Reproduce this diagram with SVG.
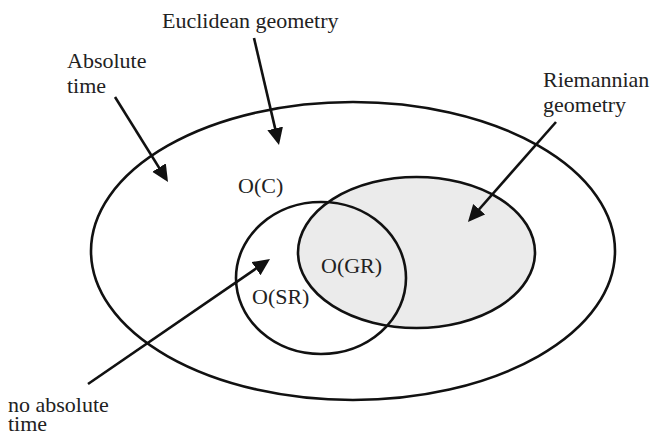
<svg xmlns="http://www.w3.org/2000/svg" width="653" height="433" viewBox="0 0 653 433">
<style>
.shape{stroke:#111;stroke-width:2.6;}
.lbl{font-family:'Liberation Serif','Times New Roman','DejaVu Serif',serif;font-size:22px;fill:#222;}
.arr{stroke:#111;stroke-width:2.6;fill:none;marker-end:url(#ah);}
</style>
<defs>
<marker id="ah" markerUnits="userSpaceOnUse" markerWidth="18" markerHeight="17" refX="13" refY="8" orient="auto">
<path d="M0,0 L17,8 L0,16 z" fill="#111"/>
</marker>
</defs>
<rect width="653" height="433" fill="#fff"/>
<g id="node-C">
<ellipse class="shape" cx="353" cy="251" rx="262" ry="149" fill="none"/>
<text class="lbl" x="238" y="193">O(C)</text>
</g>
<g id="node-GR">
<ellipse class="shape" cx="416.5" cy="252.5" rx="118.5" ry="75.5" fill="#ebebeb"/>
<text class="lbl" x="321" y="273">O(GR)</text>
</g>
<g id="node-SR">
<ellipse class="shape" cx="321" cy="278" rx="85" ry="76" fill="none"/>
<text class="lbl" x="252" y="304">O(SR)</text>
</g>
<g id="label-absolute">
<text class="lbl" x="67" y="68">Absolute</text>
<text class="lbl" x="67" y="93">time</text>
</g>
<g id="label-euclidean">
<text class="lbl" x="162" y="28">Euclidean geometry</text>
</g>
<g id="label-riemannian">
<text class="lbl" x="543" y="87">Riemannian</text>
<text class="lbl" x="543" y="112">geometry</text>
</g>
<g id="label-noabsolute">
<text class="lbl" x="8" y="412">no absolute</text>
<text class="lbl" x="8" y="431">time</text>
</g>
<g id="connectors">
<line class="arr" x1="115" y1="97" x2="165.9" y2="178.6"/>
<line class="arr" x1="254" y1="38" x2="278.1" y2="141.1"/>
<line class="arr" x1="556" y1="122" x2="470.6" y2="219"/>
<line class="arr" x1="88" y1="384" x2="266.7" y2="261.3"/>
</g>
</svg>
